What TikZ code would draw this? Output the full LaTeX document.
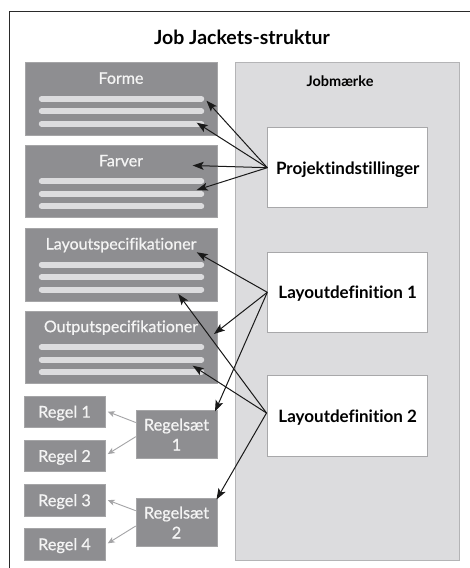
\documentclass[tikz,border=0pt]{standalone}
\usepackage{fontspec}
\setmainfont{Lato}[Ligatures=NoCommon]
\newfontfamily\medlato{Lato}[Ligatures=NoCommon, FakeBold=0.7]
\usetikzlibrary{arrows.meta}
\definecolor{boxgray}{HTML}{8E8E91}
\definecolor{barcol}{HTML}{DCDCDE}
\definecolor{jobfill}{HTML}{DCDCDE}
\definecolor{jobedge}{HTML}{B4B4B6}
\definecolor{whiteedge}{HTML}{A8A8AA}
\definecolor{txtwhite}{HTML}{F4F4F4}
\definecolor{thinarrow}{HTML}{A4A4A6}
\definecolor{framecol}{HTML}{2A2A2A}
\begin{document}
\begin{tikzpicture}[x=1pt,y=-1pt,
  darkbox/.style={fill=boxgray, draw=boxgray!80!white, line width=0.5pt, inner sep=0pt, minimum width=192pt, minimum height=72.5pt},
  boxtitle/.style={anchor=base, text=txtwhite, font=\medlato\fontsize{16}{16}\selectfont, inner sep=0pt},
  rulebox/.style={fill=boxgray, draw=boxgray!80!white, line width=0.5pt, inner sep=0pt, minimum width=81pt, minimum height=31.3pt, text=txtwhite, font=\medlato\fontsize{16.3}{16.3}\selectfont, text depth=0pt},
  setbox/.style={fill=boxgray, draw=boxgray!80!white, line width=0.5pt, inner sep=0pt, minimum width=81pt, minimum height=47.6pt, text=txtwhite, font=\medlato\fontsize{16.3}{20}\selectfont, align=center},
  whitebox/.style={fill=white, draw=whiteedge, line width=0.8pt, inner sep=0pt, minimum width=160pt, minimum height=80pt, font=\bfseries\fontsize{17}{17}\selectfont, text depth=0pt},
  bar/.style={line width=6pt, line cap=round, draw=barcol},
  blackarrow/.style={draw=black!90, line width=1pt, -{Stealth[length=11pt,width=8pt,inset=2.5pt]}},
  grayarrow/.style={draw=thinarrow, line width=0.9pt, -{Stealth[length=7pt,width=6pt,inset=2pt]}},
]
\useasboundingbox (0,0) rectangle (470,568);
\fill[white] (0,0) rectangle (470,568);
\draw[framecol, line width=1pt] (9.5,580) -- (9.5,11) -- (480,11);

\node[anchor=base, font=\bfseries\fontsize{19.5}{19.5}\selectfont, inner sep=0pt] (title) at (242,44.3) {Job Jackets-struktur};

% Jobmaerke container
\node[fill=jobfill, draw=jobedge, line width=0.8pt, inner sep=0pt, minimum width=224.5pt, minimum height=497.5pt] (jobm) at (347.25,311.25) {};
\node[anchor=base, font=\bfseries\fontsize{14.5}{14.5}\selectfont, inner sep=0pt] (jobmlabel) at (340,86) {Jobmærke};

% white boxes
\node[whitebox] (proj) at (347.7,167.7) {Projektindstillinger};
\node[whitebox] (ld1) at (347.7,292.3) {Layoutdefinition 1};
\node[whitebox, minimum height=81pt] (ld2) at (347.7,416.2) {Layoutdefinition 2};

% dark boxes with bars
\foreach \nm/\cy/\ttl in {forme/98.75/Forme, farver/181.35/Farver, layspec/264.5/Layoutspecifikationer, outspec/347.15/Outputspecifikationer}{
  \node[darkbox] (\nm) at (121,\cy) {};
  \node[boxtitle] (\nm title) at ([yshift=-21.5pt]\nm.north) {\ttl};
  \draw[bar] ([shift={(17pt,-36.5pt)}]\nm.north west) -- ([shift={(-16pt,-36.5pt)}]\nm.north east);
  \draw[bar] ([shift={(17pt,-49pt)}]\nm.north west) -- ([shift={(-16pt,-49pt)}]\nm.north east);
  \draw[bar] ([shift={(17pt,-61.5pt)}]\nm.north west) -- ([shift={(-16pt,-61.5pt)}]\nm.north east);
}

% rule boxes
\node[rulebox] (r1) at (64.5,411.65) {Regel 1};
\node[rulebox] (r2) at (64.5,455.85) {Regel 2};
\node[rulebox] (r3) at (64.5,500.15) {Regel 3};
\node[rulebox] (r4) at (64.5,544.15) {Regel 4};
\node[setbox] (rs1) at (176.5,434.5) {Regelsæt\\1};
\node[setbox] (rs2) at (176.5,522.5) {Regelsæt\\2};

% arrow tip coordinates
\coordinate (tf1) at (206.5,100.7);
\coordinate (tf3) at (196.7,122.7);
\coordinate (tfa) at (192.7,165.5);
\coordinate (tfa2) at (196.7,190);
\coordinate (tls) at (196.7,252.3);
\coordinate (tls3) at (178.3,294);
\coordinate (tos) at (214,334);
\coordinate (tos2) at (192.7,365.7);
\coordinate (trs1) at (215,411.5);
\coordinate (trs2) at (216.5,499.5);
\coordinate (s2) at (266.5,413);

\draw[blackarrow] (proj.west) -- (tf1);
\draw[blackarrow] (proj.west) -- (tf3);
\draw[blackarrow] (proj.west) -- (tfa);
\draw[blackarrow] (proj.west) -- (tfa2);
\draw[blackarrow] (ld1.west) -- (tls);
\draw[blackarrow] (ld1.west) -- (tos);
\draw[blackarrow] (ld1.west) -- (trs1);
\draw[blackarrow] (s2) -- (tls3);
\draw[blackarrow] (s2) -- (tos2);
\draw[blackarrow] (s2) -- (trs2);

% gray arrows
\draw[grayarrow] ([yshift=12pt]rs1.west) -- ([xshift=2.5pt]r1.east);
\draw[grayarrow] ([yshift=-2.2pt]rs1.west) -- ([shift={(2.5pt,1.8pt)}]r2.east);
\draw[grayarrow] ([yshift=11.8pt]rs2.west) -- ([xshift=2.5pt]r3.east);
\draw[grayarrow] ([yshift=-3.5pt]rs2.west) -- ([shift={(2.5pt,0.8pt)}]r4.east);
\end{tikzpicture}
\end{document}
